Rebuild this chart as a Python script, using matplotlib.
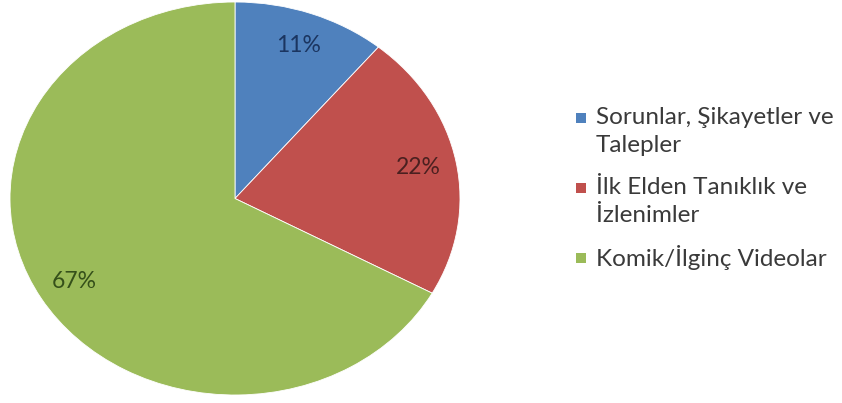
import numpy as np
import matplotlib.pyplot as plt
from matplotlib.patches import Rectangle

# Veriler
kategoriler = ['Sorunlar, Şikayetler ve\nTalepler',
               'İlk Elden Tanıklık ve\nİzlenimler',
               'Komik/İlginç Videolar']
yuzdeler = [11, 22, 67]
renkler = ['#4F81BD', '#C0504D', '#9BBB59']
etiket_renkleri = ['#1B3560', '#4A2020', '#35501A']

plt.rcParams['font.family'] = ['Lato', 'DejaVu Sans']

W, H = 842, 403
fig = plt.figure(figsize=(W / 100, H / 100), dpi=100)
# pasta biraz yatay basık (ekran görüntüsü gerilmiş)
ax = fig.add_axes([10 / W, 8 / H, 450 / W, 393 / H])

wedges, texts, autotexts = ax.pie(
    yuzdeler, colors=renkler, startangle=90, counterclock=False,
    autopct='%1.0f%%', pctdistance=0.83, radius=1.0,
    wedgeprops=dict(linewidth=0.6, edgecolor='white'),
    textprops=dict(fontsize=16.5))
for t, c in zip(autotexts, etiket_renkleri):
    t.set_color(c)
ax.set_xlim(-1, 1)
ax.set_ylim(-1, 1)
ax.set_aspect('auto')

# Lejant (elle, kare ilk satırla hizalı)
y = 118
satir_araligi = 27.5
oge_araligi = 42.5
for etiket, renk in zip(kategoriler, renkler):
    fig.add_artist(Rectangle(((576) / W, 1 - (y + 5) / H), 10 / W, 10 / H,
                             transform=fig.transFigure, facecolor=renk,
                             edgecolor='none'))
    satirlar = etiket.split('\n')
    for i, satir in enumerate(satirlar):
        fig.text(596 / W, 1 - y / H, satir, fontsize=17.5, color='#3A3A3A',
                 va='center', ha='left')
        if i < len(satirlar) - 1:
            y += satir_araligi
    y += oge_araligi

fig.savefig('out.png', dpi=100)
